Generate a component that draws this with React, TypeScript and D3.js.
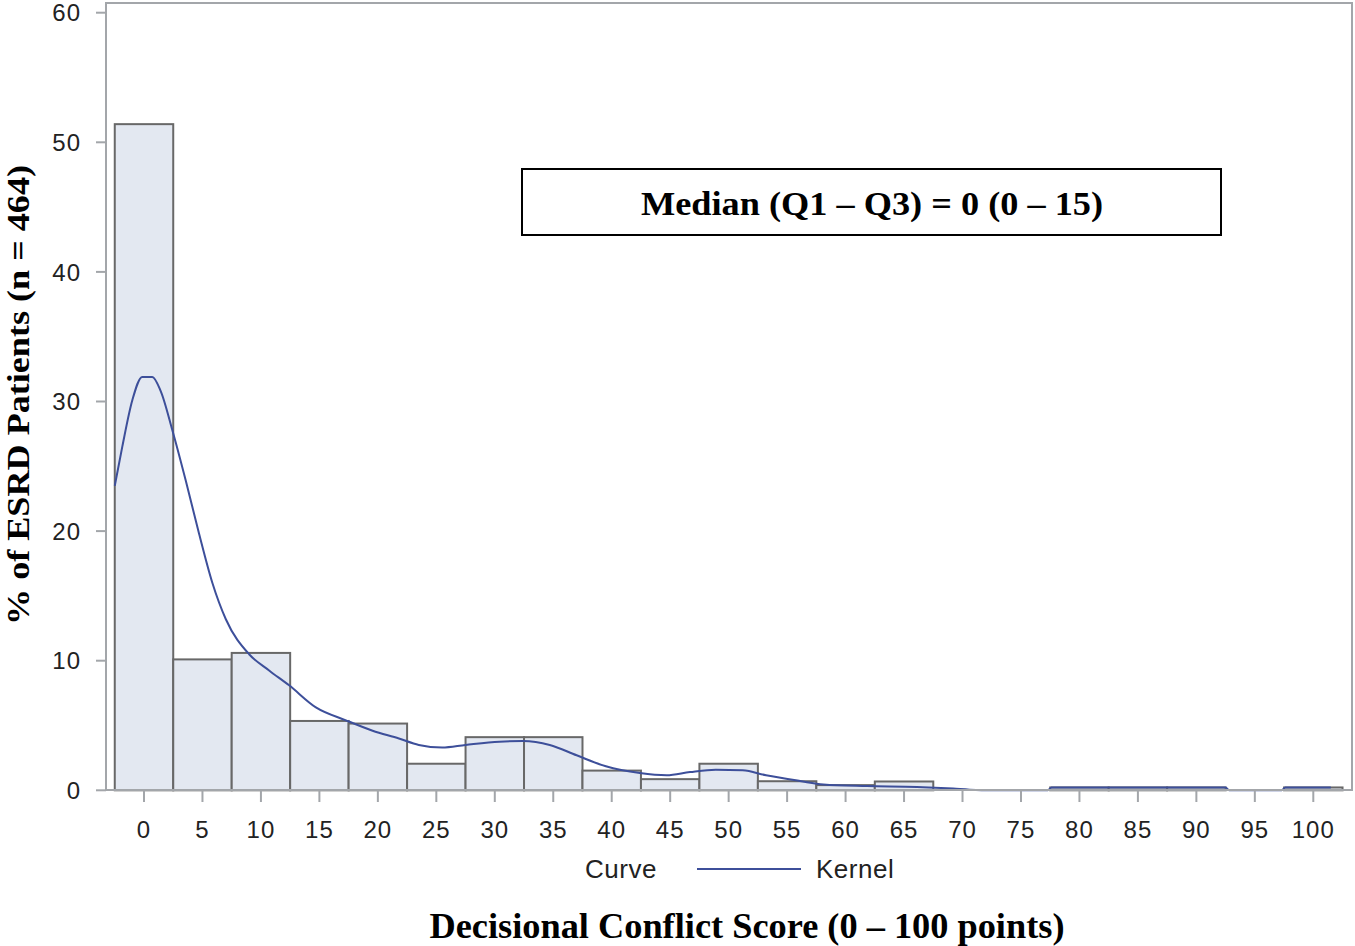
import React from "react";
import * as d3 from "d3";

const binCenters = [0, 5, 10, 15, 20, 25, 30, 35, 40, 45, 50, 55, 60, 65, 80, 85, 90, 100];
const binPercents = [51.4, 10.1, 10.6, 5.35, 5.15, 2.05, 4.1, 4.1, 1.52, 0.86, 2.05, 0.7, 0.4, 0.68, 0.22, 0.22, 0.22, 0.22];

const kernelX = [-2.5, -1.86, -1.0, -0.15, 0.71, 1.43, 2.42, 3.57, 4.71, 5.85, 7.0, 8.99, 10.7, 12.41, 14.7, 17.27, 19.55, 21.8, 23.5, 25.5, 27.5, 30.4, 32.4, 34.7, 37.0, 39.5, 42.4, 44.7, 46.7, 48.9, 51.2, 53.2, 56.1, 58.1, 61.8, 66.1, 69.2, 70.6, 72.5, 77.3, 77.6, 85, 92.5, 92.8, 97.3, 97.6, 101.5];
const kernelY = [23.5, 26.5, 30.1, 31.9, 31.9, 30.8, 27.8, 23.9, 19.8, 16.0, 13.2, 10.5, 9.25, 8.1, 6.4, 5.4, 4.6, 4.0, 3.5, 3.3, 3.5, 3.75, 3.8, 3.5, 2.7, 1.85, 1.33, 1.16, 1.41, 1.59, 1.54, 1.16, 0.72, 0.45, 0.33, 0.26, 0.13, 0.05, 0, 0, 0.22, 0.22, 0.22, 0, 0, 0.22, 0.22];

const xTicks = [0, 5, 10, 15, 20, 25, 30, 35, 40, 45, 50, 55, 60, 65, 70, 75, 80, 85, 90, 95, 100];
const yTicks = [0, 10, 20, 30, 40, 50, 60];

const binWidth = 5;
const xTitle = "Decisional Conflict Score (0 \u2013 100 points)";
const yTitle = "% of ESRD Patients (n = 464)";
const boxText = "Median (Q1 \u2013 Q3) = 0 (0 \u2013 15)";

export default function App() {
  const W = 1355, H = 946;
  const left = 106, right = 1352, top = 3, bottom = 790;
  const x = d3.scaleLinear().domain([0, 100]).range([144, 1313.3]);
  const y = d3.scaleLinear().domain([0, 60]).range([790.3, 12.7]);
  const line = d3
    .line<number>()
    .x((_, i) => x(kernelX[i]))
    .y((d) => y(d))
    .curve(d3.curveMonotoneX);
  const tickFont = "'Liberation Sans Narrow', 'Liberation Sans', Arial, sans-serif";
  const serif = "'Liberation Serif', 'Times New Roman', serif";
  const frame = "#a3a6aa";
  return (
    <svg width={W} height={H} style={{ position: "absolute", left: 0, top: 0, background: "#fff" }}>
      <rect x={0} y={0} width={W} height={H} fill="#fff" />
      {binCenters.map((c, i) => (
        <rect
          key={i}
          x={x(c - binWidth / 2)}
          y={y(binPercents[i])}
          width={x(c + binWidth / 2) - x(c - binWidth / 2)}
          height={y(0) - y(binPercents[i])}
          fill="#e3e8f1"
          stroke="#686868"
          strokeWidth={2}
        />
      ))}
      <path d={line(kernelY) || ""} fill="none" stroke="#3d4f9a" strokeWidth={2} />
      <rect x={left} y={top} width={right - left} height={bottom - top} fill="none" stroke={frame} strokeWidth={2} />
      {yTicks.map((t) => (
        <g key={t}>
          <line x1={left - 10} x2={left} y1={y(t)} y2={y(t)} stroke={frame} strokeWidth={2} />
          <text x={81} y={y(t)} dy="0.36em" textAnchor="end" fontFamily={tickFont} fontSize={24} fill="#222" letterSpacing={1}>
            {t}
          </text>
        </g>
      ))}
      {xTicks.map((t) => (
        <g key={t}>
          <line x1={x(t)} x2={x(t)} y1={bottom} y2={bottom + 12} stroke={frame} strokeWidth={2} />
          <text x={x(t)} y={838} textAnchor="middle" fontFamily={tickFont} fontSize={24} fill="#222" letterSpacing={1}>
            {t}
          </text>
        </g>
      ))}
      <rect x={522} y={169} width={699} height={66} fill="#fff" stroke="#000" strokeWidth={2} />
      <text x={872} y={215} textAnchor="middle" fontFamily={serif} fontWeight="bold" fontSize={34} textLength={462} lengthAdjust="spacingAndGlyphs">
        {boxText}
      </text>
      <text x={585} y={878} fontFamily={tickFont} fontSize={26} fill="#222" letterSpacing={0.5}>
        Curve
      </text>
      <line x1={697} x2={801} y1={869} y2={869} stroke="#3d4f9a" strokeWidth={2} />
      <text x={816} y={878} fontFamily={tickFont} fontSize={26} fill="#222" letterSpacing={0.5}>
        Kernel
      </text>
      <text x={747} y={938} textAnchor="middle" fontFamily={serif} fontWeight="bold" fontSize={35} textLength={635} lengthAdjust="spacingAndGlyphs">
        {xTitle}
      </text>
      <text
        transform={`translate(29, 395) rotate(-90)`}
        textAnchor="middle"
        fontFamily={serif}
        fontWeight="bold"
        fontSize={32}
        textLength={460}
        lengthAdjust="spacingAndGlyphs"
      >
        {yTitle}
      </text>
    </svg>
  );
}
